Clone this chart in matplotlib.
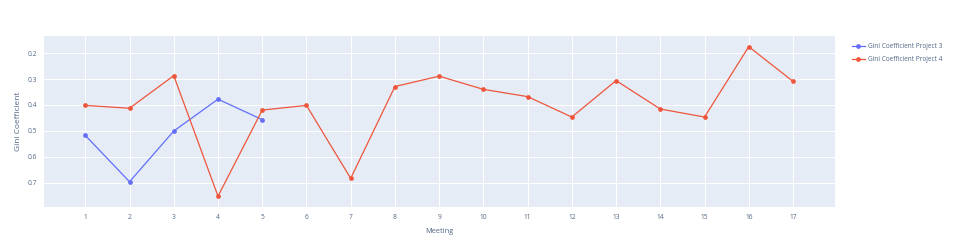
import numpy as np
import matplotlib.pyplot as plt

plt.rcParams['font.family'] = ['Open Sans', 'DejaVu Sans']

meetings_p3 = [1, 2, 3, 4, 5]
gini_p3 = [0.518, 0.697, 0.501, 0.378, 0.457]
meetings_p4 = list(range(1, 18))
gini_p4 = [0.402, 0.413, 0.287, 0.753, 0.420, 0.402, 0.684, 0.329, 0.289,
           0.340, 0.368, 0.447, 0.306, 0.416, 0.447, 0.175, 0.309]
y_ticks = [0.2, 0.3, 0.4, 0.5, 0.6, 0.7]

text_col = '#506784'
fig = plt.figure(figsize=(9.57, 2.5), dpi=100)
ax = fig.add_axes([44 / 957, 1 - 207 / 250, (835 - 44) / 957, (207 - 36.5) / 250])
ax.set_facecolor('#E5ECF6')

ax.plot(meetings_p3, gini_p3, color='#636EFA', lw=0.9, marker='o', ms=2.4,
        label='Gini Coefficient Project 3', zorder=3)
ax.plot(meetings_p4, gini_p4, color='#EF553B', lw=0.9, marker='o', ms=2.4,
        label='Gini Coefficient Project 4', zorder=3)

ax.set_xlim(0.066, 17.95)
ax.set_ylim(0.7946, 0.1357)
ax.set_xticks(meetings_p4)
ax.set_yticks(y_ticks)
ax.set_yticklabels([f'{v:.1f}' for v in y_ticks])
ax.grid(True, color='white', lw=0.7)
ax.set_axisbelow(True)
for s in ax.spines.values():
    s.set_visible(False)
ax.tick_params(length=0, labelsize=4.8, colors=text_col, pad=5)

ax.set_xlabel('Meeting', fontsize=5.4, color=text_col, labelpad=5)
ax.set_ylabel('Gini Coefficient', fontsize=6, color=text_col, labelpad=4)

ax.legend(loc='upper left', bbox_to_anchor=(1.018, 0.975), frameon=False,
          fontsize=4.7, labelcolor=text_col, handlelength=2.0, handletextpad=0.5,
          borderaxespad=0, labelspacing=0.85)

fig.savefig('out.png', dpi=100)
